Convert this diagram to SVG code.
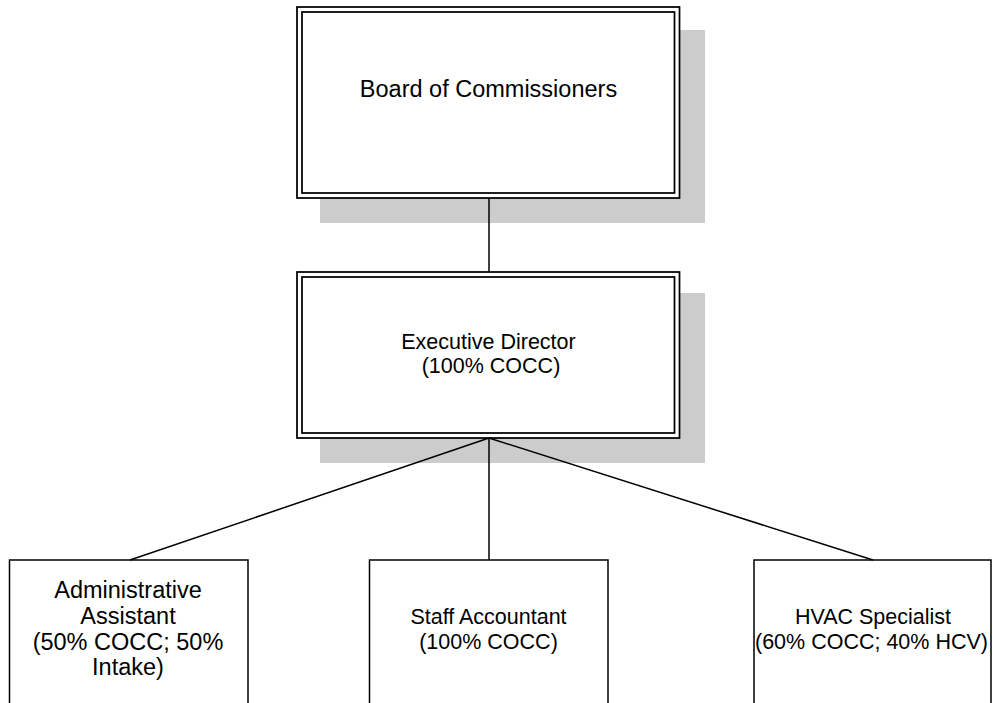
<svg xmlns="http://www.w3.org/2000/svg" width="995" height="703" viewBox="0 0 995 703">
<style>
.shadow{fill:#cccccc;stroke:none}
.box{fill:#ffffff;stroke:#000000;stroke-width:1.75}
.inner{fill:none;stroke:#000000;stroke-width:1.75}
.plain{fill:#ffffff;stroke:#000000;stroke-width:1.5}
.conn{stroke:#000000;stroke-width:1.5;fill:none}
text{font-family:"Liberation Sans",Arial,sans-serif;fill:#000000;text-anchor:middle}
.big{font-size:23.5px}
.mid{font-size:21.5px}
</style>
<rect x="0" y="0" width="995" height="703" fill="#ffffff"/>
<g id="board">
<rect class="shadow" x="320" y="30" width="385" height="193"/>
<rect class="box" x="297" y="7" width="382.5" height="191"/>
<rect class="inner" x="302" y="12" width="372.5" height="181"/>
<text class="big" x="488.5" y="97">Board of Commissioners</text>
</g>
<g id="exec">
<rect class="shadow" x="320" y="293" width="385" height="170"/>
<rect class="box" x="297" y="272" width="382.5" height="166"/>
<rect class="inner" x="302" y="277" width="372.5" height="156"/>
<text class="mid" x="488.5" y="349">Executive Director</text>
<text class="mid" x="491" y="373">(100% COCC)</text>
</g>
<g id="admin">
<rect class="plain" x="9.5" y="560" width="238.5" height="160"/>
<text class="big" x="128" y="598">Administrative</text>
<text class="big" x="128" y="624">Assistant</text>
<text class="big" x="128" y="650">(50% COCC; 50%</text>
<text class="big" x="128" y="675">Intake)</text>
</g>
<g id="staff">
<rect class="plain" x="369.5" y="560" width="238.5" height="160"/>
<text class="mid" x="488.5" y="624">Staff Accountant</text>
<text class="mid" x="488.5" y="649">(100% COCC)</text>
</g>
<g id="hvac">
<rect class="plain" x="754" y="560" width="237" height="160"/>
<text class="mid" x="873" y="624">HVAC Specialist</text>
<text class="mid" x="871.5" y="649">(60% COCC; 40% HCV)</text>
</g>
<g id="connectors">
<line class="conn" x1="489" y1="198" x2="489" y2="272"/>
<line class="conn" x1="489" y1="438" x2="130" y2="560"/>
<line class="conn" x1="489" y1="438" x2="489" y2="560"/>
<line class="conn" x1="489" y1="438" x2="873" y2="560"/>
</g>
</svg>
